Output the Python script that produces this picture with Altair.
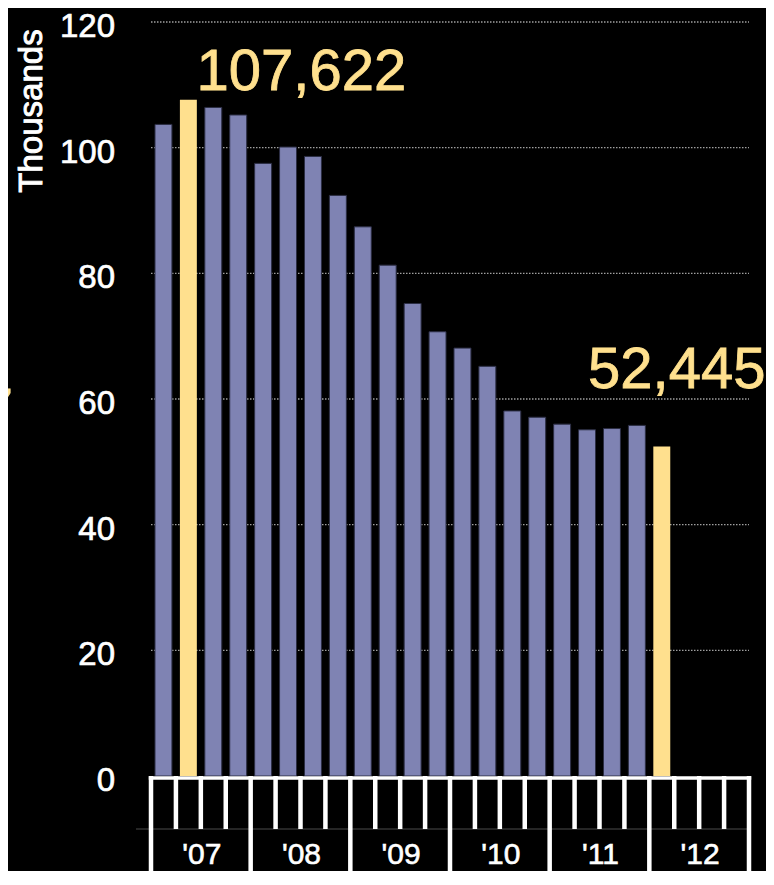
import altair as alt
import pandas as pd

# ---- data ----
quarters = ["2007 Q1", "2007 Q2", "2007 Q3", "2007 Q4",
            "2008 Q1", "2008 Q2", "2008 Q3", "2008 Q4",
            "2009 Q1", "2009 Q2", "2009 Q3", "2009 Q4",
            "2010 Q1", "2010 Q2", "2010 Q3", "2010 Q4",
            "2011 Q1", "2011 Q2", "2011 Q3", "2011 Q4",
            "2012 Q1"]
values = [103.7, 107.622, 106.4, 105.2,
          97.5, 100.1, 98.6, 92.4,
          87.4, 81.3, 75.2, 70.7,
          68.1, 65.2, 58.1, 57.1,
          56.0, 55.1, 55.3, 55.8,
          52.445]
highlighted = ["2007 Q2", "2012 Q1"]
year_labels = ["'07", "'08", "'09", "'10", "'11", "'12"]
y_ticks = [0, 20, 40, 60, 80, 100, 120]

PURPLE = "#7f83b3"
YELLOW = "#ffe08e"
FONT = "Liberation Sans"

n_slots = 4 * len(year_labels)

bars = pd.DataFrame({
    "quarter": quarters,
    "i": list(range(len(quarters))),
    "value": values,
    "hi": [q in highlighted for q in quarters],
})
bars["label"] = [f"{round(v * 1000):,}" for v in values]

bounds = pd.DataFrame({"b": list(range(n_slots + 1))})
bounds["year"] = bounds["b"] % 4 == 0
years = pd.DataFrame({"label": year_labels, "mid": [4 * k + 2 for k in range(len(year_labels))]})
ticks = pd.DataFrame({"v": y_ticks})

W, H = 598, 754
xs = alt.Scale(domain=[0, n_slots], nice=False, zero=False)
ys = alt.Scale(domain=[0, 120], nice=False)

base = alt.Chart(bars)

grid = alt.Chart(ticks).transform_filter("datum.v > 0").mark_rule(
    color="#a0a0a0", strokeDash=[1.5, 1.5], strokeWidth=1.4
).encode(y=alt.Y("v:Q", scale=ys, axis=None), x=alt.value(0), x2=alt.value(W))

ylab = alt.Chart(ticks).mark_text(
    font=FONT, fontSize=33, color="white", align="right", baseline="middle",
    stroke="white", strokeWidth=0.7, dy=5
).encode(y=alt.Y("v:Q", scale=ys), x=alt.value(-36), text="v:Q")

ytitle = alt.Chart(ticks).transform_filter("datum.v == 0").mark_text(
    font=FONT, fontSize=33, color="white", align="center", baseline="alphabetic",
    angle=270, stroke="white", strokeWidth=0.9
).encode(x=alt.value(-109), y=alt.value(89), text=alt.value("Thousands"))

bar_layer = base.transform_calculate(
    x0="datum.i + 0.16", x1="datum.i + 0.84"
).mark_bar(strokeWidth=1).encode(
    x=alt.X("x0:Q", scale=xs, axis=None),
    x2="x1:Q",
    y=alt.Y("value:Q", scale=ys, axis=None),
    y2=alt.datum(0),
    color=alt.Color("hi:N", scale=alt.Scale(domain=[False, True], range=[PURPLE, YELLOW]),
                    legend=None),
    stroke=alt.condition("datum.hi", alt.value("transparent"), alt.value("#2c2e44")),
)

qt = alt.Chart(bounds).transform_filter("!datum.year").mark_rule(
    color="white", strokeWidth=4.5, strokeCap="butt"
).encode(x=alt.X("b:Q", scale=xs), y=alt.datum(0), y2=alt.value(H + 53))

yl = alt.Chart(bounds).transform_filter("datum.year").mark_rule(
    color="white", strokeWidth=4.5, strokeCap="butt"
).encode(x=alt.X("b:Q", scale=xs), y=alt.datum(0), y2=alt.value(H + 130))

faint = alt.Chart(bounds).transform_filter("datum.b == 0").mark_rule(
    color="#4a4a4a", strokeWidth=1
).encode(x=alt.value(-15), x2=alt.value(W), y=alt.value(H + 53))

baseline = alt.Chart(bounds).transform_filter("datum.b == 0").mark_rule(
    color="white", strokeWidth=3.6, yOffset=2
).encode(x=alt.value(-2.2), x2=alt.value(W + 2.2), y=alt.datum(0))

xlabels = alt.Chart(years).mark_text(
    font=FONT, fontSize=30, color="white", align="center", baseline="alphabetic", dx=1,
    stroke="white", strokeWidth=0.6
).encode(x=alt.X("mid:Q", scale=xs), y=alt.value(H + 88), text="label:N")

ann1 = base.transform_filter("datum.quarter == '2007 Q2'").transform_calculate(
    xc="datum.i + 0.5").mark_text(
    font=FONT, fontSize=58, color=YELLOW, align="center", baseline="alphabetic",
    dx=113, dy=-10, stroke=YELLOW, strokeWidth=0.8
).encode(x=alt.X("xc:Q", scale=xs), y=alt.Y("value:Q", scale=ys), text="label:N")

ann2 = base.transform_filter("datum.quarter == '2012 Q1'").transform_calculate(
    xc="datum.i + 0.5").mark_text(
    font=FONT, fontSize=58, color=YELLOW, align="center", baseline="alphabetic",
    dx=15, dy=-58, stroke=YELLOW, strokeWidth=0.8
).encode(x=alt.X("xc:Q", scale=xs), y=alt.Y("value:Q", scale=ys), text="label:N")

frag = alt.Chart(years).transform_filter("datum.mid == 2").mark_text(
    font=FONT, fontSize=58, color=YELLOW, align="right", baseline="alphabetic",
    stroke=YELLOW, strokeWidth=0.8
).encode(x=alt.value(-138), y=alt.value(407), text=alt.value("7"))

chart = alt.layer(faint, grid, bar_layer, qt, yl, baseline, ylab, ytitle, xlabels,
                  ann1, ann2, frag).properties(
    width=W, height=H,
    autosize=alt.AutoSizeParams(type="none"),
    padding={"left": 143, "top": 14, "right": 17, "bottom": 95},
    background="black",
).configure_view(stroke=None)

chart.save("out.html", embed_options={"renderer": "svg", "actions": False})
